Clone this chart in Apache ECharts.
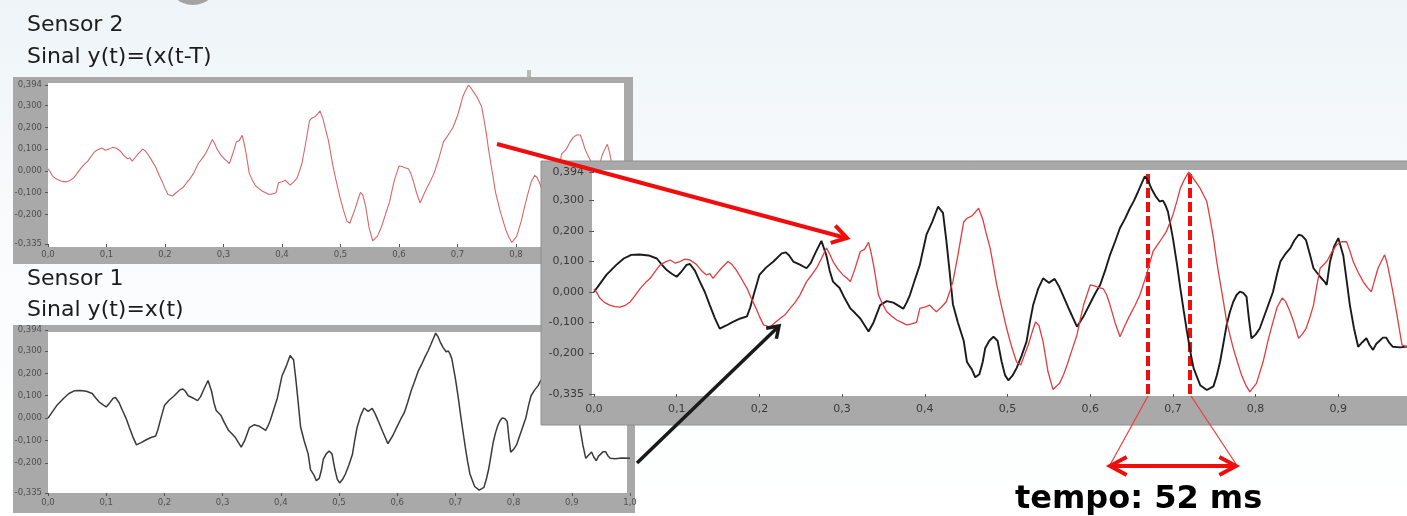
<!DOCTYPE html>
<html>
<head>
<meta charset="utf-8">
<title>Sensor 1 / Sensor 2 - atraso</title>
<script src="https://cdn.jsdelivr.net/npm/echarts@6/dist/echarts.min.js"></script>
<style>
html, body { margin: 0; padding: 0; background: #fff; }
#main { width: 1407px; height: 516px; }
</style>
</head>
<body>
<div id="main"></div>
<script>
// Sensor 1: sinal x(t) (traço preto)
var t_black = [0.000,0.008,0.015,0.027,0.036,0.045,0.055,0.066,0.076,0.082,0.088,0.094,0.100,0.106,0.112,0.116,0.122,0.128,0.134,0.140,
    0.146,0.152,0.160,0.168,0.177,0.185,0.189,0.193,0.200,0.208,0.217,0.227,0.232,0.236,0.241,0.249,0.257,0.262,0.268,0.275,
    0.281,0.285,0.289,0.297,0.303,0.310,0.316,0.322,0.332,0.338,0.346,0.354,0.362,0.370,0.374,0.378,0.382,0.388,0.394,0.402,
    0.409,0.416,0.422,0.426,0.430,0.434,0.440,0.447,0.451,0.457,0.461,0.466,0.470,0.473,0.478,0.483,0.488,0.493,0.497,0.501,
    0.506,0.511,0.517,0.523,0.527,0.531,0.537,0.543,0.550,0.557,0.562,0.567,0.575,0.584,0.592,0.600,0.606,0.612,0.618,0.624,
    0.630,0.636,0.642,0.648,0.653,0.658,0.662,0.666,0.670,0.674,0.679,0.684,0.688,0.691,0.694,0.700,0.705,0.709,0.713,0.717,
    0.721,0.725,0.733,0.741,0.749,0.753,0.757,0.761,0.765,0.769,0.773,0.777,0.781,0.785,0.789,0.792,0.795,0.800,0.805,0.813,
    0.821,0.826,0.830,0.836,0.842,0.847,0.852,0.856,0.861,0.866,0.870,0.878,0.883,0.886,0.890,0.895,0.900,0.906,0.910,0.914,
    0.919,0.924,0.929,0.934,0.938,0.942,0.946,0.950,0.954,0.958,0.962,0.966,0.975,0.985,1.000];
var v_black = [0.000,0.030,0.056,0.089,0.110,0.122,0.123,0.120,0.110,0.090,0.072,0.060,0.050,0.068,0.089,0.092,0.070,0.034,0.000,-0.043,
    -0.085,-0.120,-0.110,-0.098,-0.087,-0.080,-0.050,-0.010,0.056,0.080,0.100,0.127,0.130,0.120,0.100,0.090,0.078,0.095,0.130,0.168,
    0.120,0.070,0.034,0.013,-0.020,-0.054,-0.070,-0.087,-0.130,-0.100,-0.043,-0.030,-0.035,-0.048,-0.055,-0.035,-0.010,0.040,0.089,0.188,
    0.230,0.280,0.260,0.170,0.067,-0.040,-0.100,-0.160,-0.230,-0.255,-0.280,-0.270,-0.230,-0.185,-0.160,-0.147,-0.160,-0.230,-0.273,-0.290,
    -0.275,-0.250,-0.210,-0.163,-0.100,-0.043,0.010,0.045,0.030,0.043,0.020,-0.010,-0.060,-0.114,-0.080,-0.037,-0.005,0.023,0.070,0.122,
    0.165,0.210,0.240,0.275,0.300,0.330,0.355,0.380,0.365,0.340,0.315,0.297,0.300,0.285,0.264,0.177,0.090,0.012,-0.060,-0.130,
    -0.195,-0.250,-0.306,-0.322,-0.310,-0.275,-0.230,-0.170,-0.108,-0.065,-0.032,-0.010,0.001,-0.003,-0.015,-0.090,-0.152,-0.140,-0.120,-0.060,
    0.000,0.060,0.100,0.125,0.144,0.170,0.188,0.185,0.170,0.120,0.078,0.050,0.035,0.023,0.100,0.150,0.177,0.120,0.040,-0.043,
    -0.120,-0.180,-0.165,-0.152,-0.175,-0.190,-0.170,-0.160,-0.150,-0.150,-0.168,-0.180,-0.182,-0.178,-0.180];

// Sensor 2: sinal y(t)=x(t-T) (traço vermelho)
var t_red = [0.000,0.004,0.007,0.013,0.019,0.025,0.031,0.037,0.044,0.050,0.056,0.062,0.068,0.074,0.080,0.086,0.092,0.098,0.104,0.110,
    0.116,0.120,0.124,0.130,0.136,0.140,0.144,0.150,0.154,0.162,0.167,0.172,0.178,0.185,0.190,0.195,0.200,0.205,0.213,0.219,
    0.225,0.231,0.237,0.243,0.249,0.257,0.263,0.269,0.275,0.281,0.285,0.289,0.295,0.301,0.306,0.310,0.316,0.322,0.327,0.332,
    0.335,0.338,0.341,0.344,0.349,0.354,0.360,0.366,0.372,0.378,0.384,0.390,0.394,0.400,0.406,0.410,0.414,0.420,0.426,0.430,
    0.434,0.440,0.447,0.451,0.457,0.461,0.465,0.470,0.474,0.479,0.483,0.487,0.493,0.499,0.505,0.511,0.516,0.520,0.525,0.530,
    0.534,0.538,0.543,0.549,0.555,0.563,0.568,0.572,0.578,0.584,0.588,0.592,0.600,0.605,0.610,0.616,0.620,0.624,0.630,0.636,
    0.642,0.648,0.654,0.660,0.668,0.676,0.684,0.692,0.700,0.705,0.709,0.714,0.719,0.723,0.728,0.733,0.741,0.745,0.749,0.753,
    0.757,0.761,0.765,0.773,0.778,0.783,0.788,0.793,0.801,0.809,0.815,0.821,0.826,0.832,0.836,0.841,0.846,0.852,0.856,0.861,
    0.866,0.870,0.874,0.878,0.886,0.892,0.898,0.904,0.910,0.914,0.918,0.924,0.930,0.935,0.940,0.944,0.948,0.952,0.956,0.959,
    0.962,0.966,0.971,0.977,0.983,0.990,1.000];
var v_red = [0.010,-0.005,-0.020,-0.035,-0.043,-0.048,-0.050,-0.045,-0.032,-0.010,0.012,0.030,0.045,0.068,0.089,0.098,0.105,0.095,0.100,0.108,
    0.105,0.098,0.090,0.070,0.056,0.060,0.045,0.065,0.078,0.100,0.090,0.072,0.045,0.012,-0.020,-0.048,-0.080,-0.108,-0.115,-0.100,
    -0.087,-0.075,-0.054,-0.035,-0.010,0.034,0.055,0.078,0.110,0.144,0.125,0.100,0.075,0.056,0.045,0.034,0.080,0.133,0.140,0.163,
    0.130,0.089,0.040,-0.010,-0.040,-0.065,-0.080,-0.092,-0.100,-0.108,-0.105,-0.100,-0.054,-0.050,-0.043,-0.055,-0.065,-0.050,-0.032,0.000,
    0.034,0.120,0.230,0.242,0.250,0.262,0.275,0.240,0.195,0.144,0.085,0.023,-0.050,-0.120,-0.180,-0.230,-0.240,-0.210,-0.174,-0.130,
    -0.098,-0.110,-0.163,-0.262,-0.320,-0.300,-0.270,-0.240,-0.190,-0.141,-0.090,-0.043,0.023,0.020,0.015,0.010,-0.010,-0.043,-0.100,-0.147,
    -0.110,-0.076,-0.045,-0.010,0.056,0.133,0.165,0.198,0.253,0.300,0.341,0.370,0.394,0.380,0.360,0.340,0.297,0.240,0.177,0.100,
    0.034,-0.030,-0.098,-0.185,-0.230,-0.273,-0.305,-0.328,-0.300,-0.230,-0.160,-0.098,-0.050,-0.020,-0.030,-0.060,-0.098,-0.152,-0.140,-0.120,
    -0.080,-0.043,0.020,0.078,0.100,0.130,0.155,0.165,0.165,0.135,0.100,0.065,0.034,0.015,0.001,0.040,0.078,0.100,0.122,0.095,
    0.056,0.000,-0.076,-0.174,-0.180,-0.175,-0.180];

// rótulos do eixo y (LabVIEW mostra os extremos)
var y_ticks = [-0.335, -0.2, -0.1, 0, 0.1, 0.2, 0.3, 0.394];
// linhas tracejadas: picos dos dois sinais (52 ms)
var delay_marks = [0.670, 0.722];

function pairs(t, v) {
    var out = [];
    for (var i = 0; i < t.length; i++) {
        out.push([t[i], v[i]]);
    }
    return out;
}
function fmt_x(v) { return v.toFixed(1).replace('.', ','); }
function fmt_y(v) { return v.toFixed(3).replace('.', ','); }

function make_x(grid, size, margin, color, z) {
    return {
        type: 'value', gridIndex: grid, min: 0, max: 1, interval: 0.1, z: z,
        axisLine: {show: false, onZero: false},
        splitLine: {show: false},
        axisTick: {show: true, length: 3, lineStyle: {color: '#555'}},
        axisLabel: {fontSize: size, color: color, margin: margin, fontFamily: 'DejaVu Sans', formatter: fmt_x,
            showMinLabel: true, showMaxLabel: true}
    };
}
function make_y(grid, size, margin, tick, color, z) {
    return {
        type: 'value', gridIndex: grid, min: -0.335, max: 0.394, z: z,
        axisLine: {show: false, onZero: false},
        splitLine: {show: false},
        axisTick: {show: true, length: tick, customValues: y_ticks, lineStyle: {color: '#555'}},
        axisLabel: {customValues: y_ticks, fontSize: size, color: color, margin: margin, fontFamily: 'DejaVu Sans',
            formatter: fmt_y}
    };
}
function arrow_head(x1, y1, x2, y2, len, ang) {
    var a = Math.atan2(y2 - y1, x2 - x1);
    return [
        [x2 - len * Math.cos(a - ang), y2 - len * Math.sin(a - ang)],
        [x2, y2],
        [x2 - len * Math.cos(a + ang), y2 - len * Math.sin(a + ang)]
    ];
}
function label(x, y, text, font, z) {
    return {type: 'text', z: z, style: {x: x, y: y, text: text, font: font, fill: '#1c1c1c', verticalAlign: 'middle'}};
}

var frame_gray = '#a9a9a9';
var red = '#f20d0d';

var chart = echarts.init(document.getElementById('main'));
var option = {
    animation: false,
    backgroundColor: {
        type: 'linear', x: 0, y: 0, x2: 0, y2: 1,
        colorStops: [{offset: 0, color: '#eef4f8'}, {offset: 0.4, color: '#f8fbfc'}, {offset: 1, color: '#ffffff'}]
    },
    grid: [
        {left: 48, top: 85, width: 585, height: 159, containLabel: false, outerBoundsMode: 'none'},
        {left: 48, top: 330, width: 582, height: 163, containLabel: false, outerBoundsMode: 'none'},
        {left: 594, top: 172, width: 827, height: 222, containLabel: false, outerBoundsMode: 'none'}
    ],
    xAxis: [make_x(0, 8.5, 6, '#505050', 2), make_x(1, 8.5, 5, '#505050', 2), make_x(2, 11, 10, '#3a3a3a', 5)],
    yAxis: [make_y(0, 8.5, 6, 3, '#505050', 2), make_y(1, 8.5, 6, 3, '#505050', 2), make_y(2, 11, 10, 5, '#3a3a3a', 5)],
    series: [
        {
            type: 'line', xAxisIndex: 0, yAxisIndex: 0, z: 3, showSymbol: false,
            lineStyle: {color: '#d8676a', width: 1.1},
            data: pairs(t_red, v_red)
        },
        {
            type: 'line', xAxisIndex: 1, yAxisIndex: 1, z: 3, showSymbol: false,
            lineStyle: {color: '#3a3a3a', width: 1.5},
            data: pairs(t_black, v_black)
        },
        {
            type: 'line', xAxisIndex: 2, yAxisIndex: 2, z: 6, showSymbol: false,
            lineStyle: {color: '#1a1a1a', width: 1.9},
            data: pairs(t_black, v_black)
        },
        {
            type: 'line', xAxisIndex: 2, yAxisIndex: 2, z: 7, showSymbol: false,
            lineStyle: {color: '#e23c3f', width: 1.3},
            data: pairs(t_red, v_red),
            markLine: {
                silent: true, symbol: ['none', 'none'], label: {show: false},
                lineStyle: {color: red, width: 4, type: [10, 4]},
                data: delay_marks.map(function (v) { return {xAxis: v}; })
            }
        }
    ],
    graphic: {
        elements: [
            // enfeite cinza no topo e marca atrás do painel
            {type: 'circle', z: 0, shape: {cx: 193, cy: -21, r: 26}, style: {fill: '#a3a3a3'}},
            {type: 'rect', z: 0, shape: {x: 527, y: 70, width: 4, height: 9}, style: {fill: '#b9b9b9'}},

            // painel sensor 2
            {type: 'rect', z: 1, shape: {x: 13, y: 77, width: 620, height: 187}, style: {fill: frame_gray}},
            {type: 'rect', z: 1, shape: {x: 48, y: 83, width: 576, height: 164}, style: {fill: '#ffffff'}},
            // painel sensor 1
            {type: 'rect', z: 1, shape: {x: 13, y: 325, width: 622, height: 188}, style: {fill: frame_gray}},
            {type: 'rect', z: 1, shape: {x: 48, y: 332, width: 579, height: 161}, style: {fill: '#ffffff'}},
            // painel grande, sobreposto
            {type: 'rect', z: 4, shape: {x: 541, y: 161, width: 880, height: 264}, style: {fill: frame_gray, stroke: '#8f8f8f', lineWidth: 1}},
            {type: 'rect', z: 4, shape: {x: 592, y: 170, width: 830, height: 226}, style: {fill: '#ffffff'}},

            label(27, 25, 'Sensor 2', '22px "DejaVu Sans"', 8),
            label(27, 57, 'Sinal y(t)=(x(t-T)', '22px "DejaVu Sans"', 8),
            label(27, 279, 'Sensor 1', '22px "DejaVu Sans"', 8),
            label(27, 310, 'Sinal y(t)=x(t)', '22px "DejaVu Sans"', 8),

            // seta vermelha: sensor 2 -> painel grande
            {type: 'line', z: 8, shape: {x1: 497, y1: 144, x2: 846, y2: 238}, style: {stroke: red, lineWidth: 4}},
            {type: 'polyline', z: 8, shape: {points: arrow_head(497, 144, 847, 238, 17, 0.55)}, style: {stroke: red, lineWidth: 4, fill: null}},
            // seta preta: sensor 1 -> painel grande
            {type: 'line', z: 8, shape: {x1: 637, y1: 463, x2: 778, y2: 327}, style: {stroke: '#1a1a1a', lineWidth: 3.5}},
            {type: 'polyline', z: 8, shape: {points: arrow_head(637, 463, 779, 326, 13, 0.6)}, style: {stroke: '#1a1a1a', lineWidth: 3.5, fill: null}},

            // intervalo entre os picos
            {type: 'line', z: 8, shape: {x1: 1148, y1: 396, x2: 1110, y2: 465}, style: {stroke: '#f23a3a', lineWidth: 1.2}},
            {type: 'line', z: 8, shape: {x1: 1191, y1: 396, x2: 1236, y2: 464}, style: {stroke: '#f23a3a', lineWidth: 1.2}},
            {type: 'line', z: 8, shape: {x1: 1112, y1: 466, x2: 1234, y2: 466}, style: {stroke: red, lineWidth: 4}},
            {type: 'polyline', z: 8, shape: {points: arrow_head(1236, 466, 1110, 466, 19, 0.5)}, style: {stroke: red, lineWidth: 4, fill: null}},
            {type: 'polyline', z: 8, shape: {points: arrow_head(1110, 466, 1236, 466, 19, 0.5)}, style: {stroke: red, lineWidth: 4, fill: null}},
            {type: 'text', z: 8, style: {x: 1015, y: 500, text: 'tempo: 52 ms', font: 'bold 32px "DejaVu Sans"', fill: '#000', verticalAlign: 'middle'}}
        ]
    }
};
chart.setOption(option);
</script>
</body>
</html>
